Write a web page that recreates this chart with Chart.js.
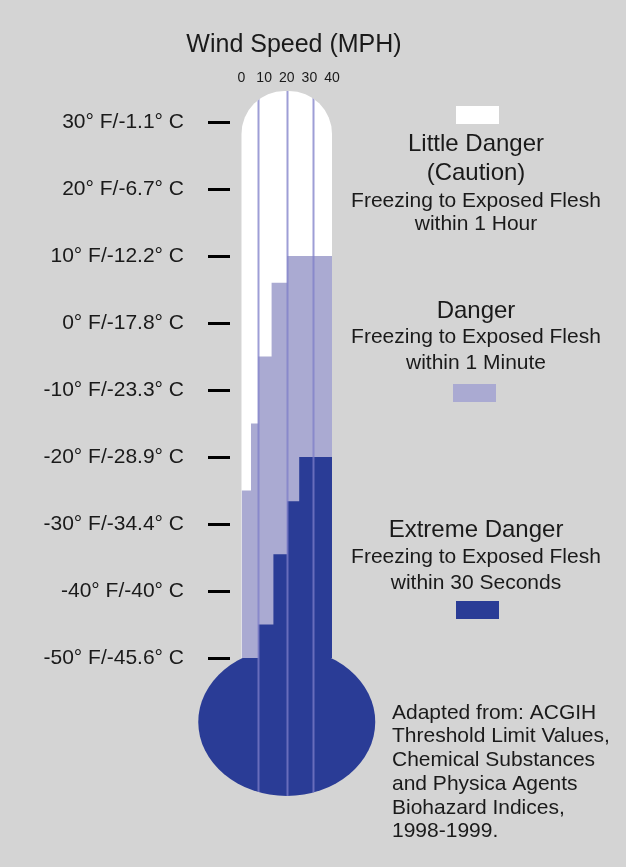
<!DOCTYPE html>
<html>
<head>
<meta charset="utf-8">
<script src="https://cdn.jsdelivr.net/npm/chart.js@4.4.1/dist/chart.umd.min.js"></script>
<style>
  html, body { margin: 0; padding: 0; background: #d4d4d4; }
  #wrap { position: relative; width: 626px; height: 867px; }
</style>
</head>
<body>
<div id="wrap"><canvas id="windChill"></canvas></div>
<script>
// temperatures (deg F) on the thermometer scale
let tempTicks = [-50, -40, -30, -20, -10, 0, 10, 20, 30];
let tempLabels = ['-50° F/-45.6° C', '-40° F/-40° C', '-30° F/-34.4° C', '-20° F/-28.9° C',
                  '-10° F/-23.3° C', '0° F/-17.8° C', '10° F/-12.2° C', '20° F/-6.7° C', '30° F/-1.1° C'];

// wind speed (MPH) across the tube
let windTicks = [0, 10, 20, 30, 40];
let dividerSpeeds = [7.4, 20.2, 31.7];

// top edge of "Danger" (below it: danger, above it: little danger)
let dangerSpeed = [0, 4.2, 7.4, 13.3, 20.2, 40];
let dangerTemp = [-25, -15, -5, 6, 10, 10];

// top edge of "Extreme Danger"
let extremeSpeed = [7.4, 14.1, 20.2, 25.5, 40];
let extremeTemp = [-45, -34.5, -26.6, -20, -20];

let colors = { little : '#ffffff', danger : '#aaaad2', extreme : '#2a3c96', divider : 'rgba(125,125,200,0.75)' };

let legendBlocks = [
    { color : colors.little, swatchY : 106, swatchX : 456, lines : [
        { text : 'Little Danger', y : 144, size : 24 },
        { text : '(Caution)', y : 173, size : 24 },
        { text : 'Freezing to Exposed Flesh', y : 201, size : 21 },
        { text : 'within 1 Hour', y : 224, size : 21 } ] },
    { color : colors.danger, swatchY : 384, swatchX : 453, lines : [
        { text : 'Danger', y : 311, size : 24 },
        { text : 'Freezing to Exposed Flesh', y : 337, size : 21 },
        { text : 'within 1 Minute', y : 363, size : 21 } ] },
    { color : colors.extreme, swatchY : 601, swatchX : 456, lines : [
        { text : 'Extreme Danger', y : 530, size : 24 },
        { text : 'Freezing to Exposed Flesh', y : 557, size : 21 },
        { text : 'within 30 Seconds', y : 583, size : 21 } ] }
];

let sourceLines = ['Adapted from: ACGIH', 'Threshold Limit Values,', 'Chemical Substances',
                   'and Physica Agents', 'Biohazard Indices,', '1998-1999.'];

let FONT = '"Liberation Sans", Arial, sans-serif';
let TEXT = '#1a1a1a';

function toPoints(xs, ys) {
    return xs.map((x, i) => ({ x : x, y : ys[i] }));
}

function tubeBox(chart) {
    let xs = chart.scales.x, ys = chart.scales.y;
    let left = xs.getPixelForValue(windTicks[0]);
    let right = xs.getPixelForValue(windTicks[windTicks.length - 1]);
    let bottom = ys.getPixelForValue(tempTicks[0]);
    return { left : left, right : right, top : chart.chartArea.top, bottom : bottom, cx : (left + right) / 2 };
}

function bulbPath(ctx, t) {
    ctx.ellipse(t.cx, t.bottom + 64, 88.5, 74, 0, 0, Math.PI * 2);
}

let thermoPlugin = {
    id : 'thermo',
    beforeDatasetsDraw(chart) {
        let ctx = chart.ctx;
        let t = tubeBox(chart);
        // bulb sits under the tube
        ctx.save();
        ctx.fillStyle = colors.extreme;
        ctx.beginPath();
        bulbPath(ctx, t);
        ctx.fill();
        ctx.restore();
        // white tube (little danger)
        ctx.save();
        ctx.beginPath();
        ctx.roundRect(t.left, t.top, t.right - t.left, t.bottom - t.top, [43, 43, 0, 0]);
        ctx.fillStyle = colors.little;
        ctx.fill();
        ctx.clip();
    },
    afterDatasetsDraw(chart) {
        let ctx = chart.ctx;
        ctx.restore();
        let t = tubeBox(chart);
        let xs = chart.scales.x;
        // divider lines inside the thermometer
        ctx.save();
        ctx.beginPath();
        ctx.roundRect(t.left, t.top, t.right - t.left, t.bottom - t.top + 2, [43, 43, 0, 0]);
        bulbPath(ctx, t);
        ctx.clip();
        ctx.strokeStyle = colors.divider;
        ctx.lineWidth = 2;
        dividerSpeeds.forEach(s => {
            let px = Math.round(xs.getPixelForValue(s)) + 0.5;
            ctx.beginPath();
            ctx.moveTo(px, t.top);
            ctx.lineTo(px, t.bottom + 160);
            ctx.stroke();
        });
        ctx.restore();
    },
    afterDraw(chart) {
        let ctx = chart.ctx;
        ctx.save();
        ctx.fillStyle = TEXT;
        ctx.textAlign = 'center';
        ctx.textBaseline = 'middle';
        ctx.font = '25px ' + FONT;
        ctx.fillText('Wind Speed (MPH)', 294, 45);
        legendBlocks.forEach(b => {
            b.lines.forEach(l => {
                ctx.font = l.size + 'px ' + FONT;
                ctx.fillText(l.text, 476, l.y);
            });
            ctx.fillStyle = b.color;
            ctx.fillRect(b.swatchX, b.swatchY, 43, 18);
            ctx.fillStyle = TEXT;
        });
        ctx.textAlign = 'left';
        ctx.font = '21px ' + FONT;
        sourceLines.forEach((s, i) => ctx.fillText(s, 392, 713 + i * 23.7));
        ctx.restore();
    }
};

let chartContainer = document.getElementById('windChill').getContext('2d');

let config = {
    type : 'line',
    data : {
        datasets : [{
            label : 'Danger',
            data : toPoints(dangerSpeed, dangerTemp),
            order : 2,
            stepped : true,
            fill : 'start',
            backgroundColor : colors.danger,
            borderWidth : 0,
            pointRadius : 0
        }, {
            label : 'Extreme Danger',
            data : toPoints(extremeSpeed, extremeTemp),
            order : 1,
            stepped : true,
            fill : 'start',
            backgroundColor : colors.extreme,
            borderWidth : 0,
            pointRadius : 0
        }]
    },
    options : {
        animation : false,
        maintainAspectRatio : false,
        layout : { padding : { left : 0, top : 0, right : 270, bottom : 209 } },
        plugins : {
            legend : { display : false },
            tooltip : { enabled : false }
        },
        scales : {
            x : {
                type : 'linear',
                position : 'top',
                min : -5.08,
                max : 50.6,
                afterBuildTicks : scale => { scale.ticks = windTicks.map(v => ({ value : v })); },
                afterFit : scale => { scale.height = 91; },
                grid : { display : false, drawTicks : false },
                border : { display : false },
                ticks : { color : TEXT, padding : 4, maxRotation : 0, font : { family : FONT, size : 14 } }
            },
            y : {
                type : 'linear',
                min : -50,
                max : 34.63,
                afterBuildTicks : scale => { scale.ticks = tempTicks.map(v => ({ value : v })); },
                afterFit : scale => { scale.width = 230; },
                grid : { display : true, drawOnChartArea : false, drawTicks : true, tickLength : 22,
                         tickColor : '#000', tickWidth : 3, lineWidth : 3 },
                border : { display : false },
                ticks : {
                    color : TEXT,
                    padding : 24,
                    font : { family : FONT, size : 21 },
                    callback : (value) => tempLabels[tempTicks.indexOf(value)]
                }
            }
        }
    },
    plugins : [thermoPlugin]
};

let chart = new Chart(chartContainer, config);
</script>
</body>
</html>
